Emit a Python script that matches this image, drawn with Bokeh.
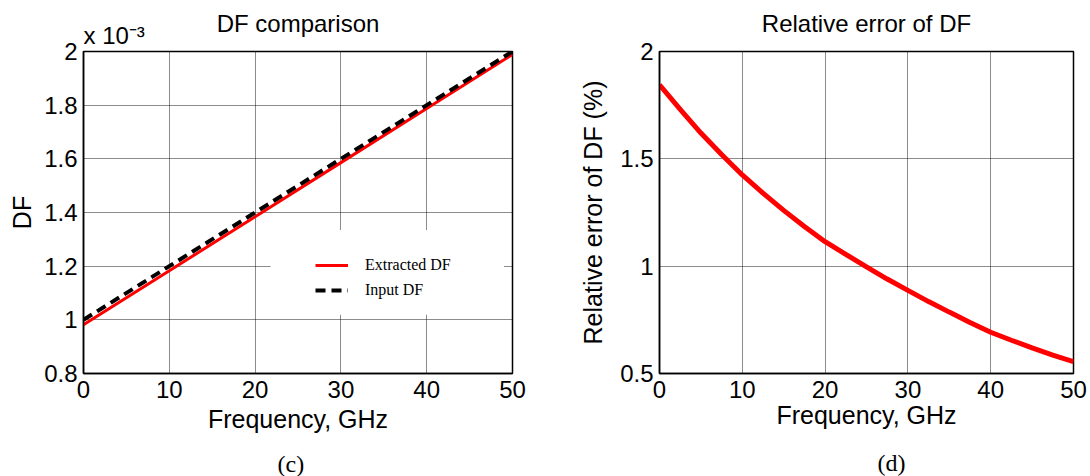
from bokeh.plotting import figure
from bokeh.layouts import row
from bokeh.models import (Range1d, FixedTicker, NumeralTickFormatter, Title,
                          Legend, LegendItem, BoxAnnotation, LinearAxis)
from bokeh.embed import file_html
from bokeh.resources import INLINE

# ---------------- data ----------------
freq_c = [0, 10, 20, 30, 40, 50]                       # GHz
df_input = [1.0, 1.2, 1.4, 1.6, 1.8, 2.0]              # x 1e-3
df_extracted = [0.9816, 1.1829, 1.3844, 1.5858, 1.7875, 1.9889]  # x 1e-3

freq_d = [0, 2.5, 5, 7.5, 10, 12.5, 15, 17.5, 20, 22.5, 25, 27.5, 30,
          32.5, 35, 37.5, 40, 42.5, 45, 47.5, 50]
rel_err = [1.845, 1.73, 1.62, 1.52, 1.425, 1.34, 1.26, 1.185, 1.114, 1.055,
           0.997, 0.94, 0.887, 0.835, 0.786, 0.738, 0.692, 0.655, 0.619,
           0.586, 0.555]

x_ticks = [0, 10, 20, 30, 40, 50]
y_ticks_c = [0.8, 1.0, 1.2, 1.4, 1.6, 1.8, 2.0]
y_ticks_d = [0.5, 1.0, 1.5, 2.0]

title_c = "DF comparison"
title_d = "Relative error of DF"
multiplier_c = "x 10\u207b\u00b3"
xlabel = "Frequency, GHz"
ylabel_c = "DF"
ylabel_d = "Relative error of DF (%)"
legend_labels = ["Extracted DF", "Input DF"]
caption_c = "(c)"
caption_d = "(d)"

SANS = "Liberation Sans"
SERIF = "Liberation Serif"


def make_fig(width, bl, br, yr, yticks, ylab, ylab_standoff, xlab_standoff):
    p = figure(width=width, height=476, output_backend="svg",
               toolbar_location=None, min_border_left=bl, min_border_right=br,
               min_border_top=51, min_border_bottom=102,
               x_range=Range1d(0, 50), y_range=Range1d(*yr))
    p.background_fill_color = "white"
    p.border_fill_color = "white"
    p.outline_line_color = "black"
    p.outline_line_width = 1.5
    p.xaxis.ticker = FixedTicker(ticks=x_ticks)
    p.yaxis.ticker = FixedTicker(ticks=yticks)
    p.yaxis.formatter = NumeralTickFormatter(format="0.[0]")
    for ax in (p.xaxis[0], p.yaxis[0]):
        ax.axis_line_color = "black"
        ax.axis_line_width = 1.5
        ax.major_tick_line_color = None
        ax.minor_tick_line_color = None
        ax.major_tick_out = 0
        ax.major_tick_in = 0
        ax.major_label_text_font = SANS
        ax.major_label_text_font_size = "24px"
        ax.major_label_text_color = "black"
        ax.axis_label_text_font = SANS
        ax.axis_label_text_font_size = "25px"
        ax.axis_label_text_font_style = "normal"
        ax.axis_label_text_color = "black"
    p.xaxis.major_label_standoff = 7
    p.yaxis.major_label_standoff = 6
    p.xaxis.axis_label = xlabel
    p.xaxis.axis_label_standoff = xlab_standoff
    p.yaxis.axis_label = ylab
    p.yaxis.axis_label_standoff = ylab_standoff
    for g in (p.xgrid[0], p.ygrid[0]):
        g.grid_line_color = "black"
        g.grid_line_dash = "1 1"
        g.grid_line_width = 1
        g.grid_line_alpha = 0.9
    return p


def text_axis(text, standoff, font=SANS, size="24px"):
    """An axis without ticks, used only to carry a text outside the frame."""
    return LinearAxis(ticker=FixedTicker(ticks=[]),
                      axis_line_color=None, major_tick_line_color=None,
                      minor_tick_line_color=None, major_tick_out=0,
                      major_tick_in=0, minor_tick_out=0, minor_tick_in=0,
                      major_label_standoff=0, major_label_text_font_size="0px",
                      axis_label=text, axis_label_standoff=standoff,
                      axis_label_text_font=font, axis_label_text_font_size=size,
                      axis_label_text_font_style="normal",
                      axis_label_text_color="black")


def style_title(t, size="24px", font=SANS):
    t.text_font = font
    t.text_font_size = size
    t.text_font_style = "normal"
    t.text_color = "black"


def caption(p, text, left_offset, space):
    # empty axis that only reserves vertical space above the caption
    p.add_layout(text_axis(" ", space, size="1px"), "below")
    t = Title(text=text, align="left", offset=left_offset, standoff=0)
    style_title(t, font=SERIF)
    p.add_layout(t, "below")


# ---------------- panel (c) ----------------
p1 = make_fig(576, 83, 64, (0.8, 2.0), y_ticks_c, ylabel_c, 5, 4)
p1.title.text = title_c
p1.title.align = "center"
p1.title.standoff = -40
style_title(p1.title)
t1 = Title(text=multiplier_c, align="left", standoff=6)
style_title(t1)
p1.add_layout(t1, "above")
caption(p1, caption_c, 194, 9)

p1.add_layout(BoxAnnotation(left=21.8, right=49.0, bottom=1.019, top=1.335,
                            fill_color="white", fill_alpha=1.0,
                            line_color=None, level="underlay"))
r_ext = p1.line(freq_c, df_extracted, line_color="#ff0000", line_width=3)
r_inp = p1.line(freq_c, df_input, line_color="black", line_width=4,
                line_dash="10 6")
leg = Legend(items=[LegendItem(label=legend_labels[0], renderers=[r_ext]),
                    LegendItem(label=legend_labels[1], renderers=[r_inp])],
             location=(232, 73), background_fill_alpha=0,
             border_line_color=None, padding=0, spacing=5,
             glyph_width=33, glyph_height=20, label_height=20,
             label_standoff=17, label_text_font=SERIF,
             label_text_font_size="16px", label_text_color="black", margin=0)
p1.add_layout(leg)

# ---------------- panel (d) ----------------
p2 = make_fig(514, 81, 17, (0.5, 2.0), y_ticks_d, ylabel_d, 10, 0)
p2.add_layout(text_axis(title_d, 15), "above")
caption(p2, caption_d, 218, 12)
p2.line(freq_d, rel_err, line_color="#ff0000", line_width=5)

layout = row(p1, p2)
open("out.html", "w").write(file_html(layout, INLINE))
